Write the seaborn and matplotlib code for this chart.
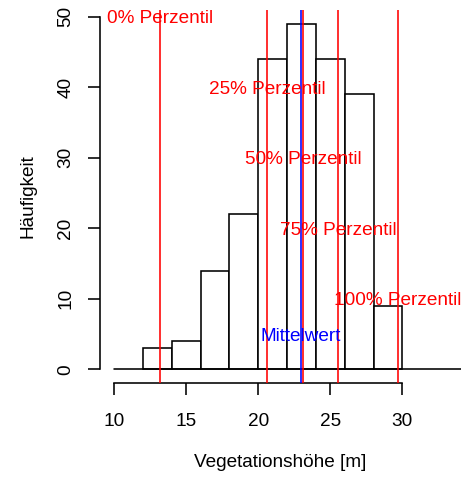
import numpy as np
import pandas as pd
import matplotlib
matplotlib.use("Agg")
import matplotlib.pyplot as plt
import seaborn as sns

# Histogram of vegetation heights (2 m classes)
bin_edges = [12, 14, 16, 18, 20, 22, 24, 26, 28, 30]
counts = [3, 4, 14, 22, 44, 49, 44, 39, 9]

# Percentiles and mean of the heights
percentile_labels = ["0% Perzentil", "25% Perzentil", "50% Perzentil",
                     "75% Perzentil", "100% Perzentil"]
percentile_values = [13.2, 20.6, 23.1, 25.55, 29.7]
percentile_label_y = [50, 40, 30, 20, 10]
mean_value = 22.95
mean_label_y = 5

sns.set_style("white")
plt.rcParams["font.family"] = ["Liberation Sans", "DejaVu Sans"]
plt.rcParams.update({"text.color": "black", "axes.labelcolor": "black",
                     "xtick.color": "black", "ytick.color": "black"})
FS = 13.7
LW = 1.15

df = pd.DataFrame({
    "mid": [(a + b) / 2 for a, b in zip(bin_edges[:-1], bin_edges[1:])],
    "n": counts,
})

fig = plt.figure(figsize=(4.65, 4.8), dpi=100)
ax = fig.add_axes([100 / 465, 97 / 480, 361 / 465, 373 / 480])

sns.histplot(data=df, x="mid", weights="n", bins=bin_edges, ax=ax,
             color="white", edgecolor="black", linewidth=LW, alpha=1)

# baseline
ax.plot([10, 40], [0, 0], color="black", lw=LW, zorder=3)

for lab, v, y in zip(percentile_labels, percentile_values, percentile_label_y):
    ax.axvline(v, color="red", lw=LW, zorder=4)
    ax.text(v, y, lab, color="red", fontsize=FS, ha="center",
            va="center_baseline", zorder=5)

ax.axvline(mean_value, color="blue", lw=LW, zorder=4)
ax.text(mean_value, mean_label_y, "Mittelwert", color="blue", fontsize=FS,
        ha="center", va="center_baseline", zorder=5)

ax.set_xlim(9.03, 34.06)
ax.set_ylim(-1.94, 50.96)

for s in ["top", "right"]:
    ax.spines[s].set_visible(False)
ax.spines["left"].set_bounds(0, 50)
ax.spines["bottom"].set_bounds(10, 30)
for s in ["left", "bottom"]:
    ax.spines[s].set_linewidth(LW)
    ax.spines[s].set_color("black")

ax.set_xticks([10, 15, 20, 25, 30])
ax.set_yticks([0, 10, 20, 30, 40, 50])
ax.tick_params(axis="both", direction="out", length=8.6, width=LW,
               color="black", labelcolor="black", labelsize=FS,
               left=True, bottom=True)
ax.tick_params(axis="x", pad=13)
ax.tick_params(axis="y", pad=10)
plt.setp(ax.get_yticklabels(), rotation=90, va="center")

ax.set_xlabel("Vegetationshöhe [m]", fontsize=FS, labelpad=17, color="black")
ax.set_ylabel("Häufigkeit", fontsize=FS, labelpad=15, color="black")
ax.grid(False)

fig.savefig("out.png", dpi=100)
